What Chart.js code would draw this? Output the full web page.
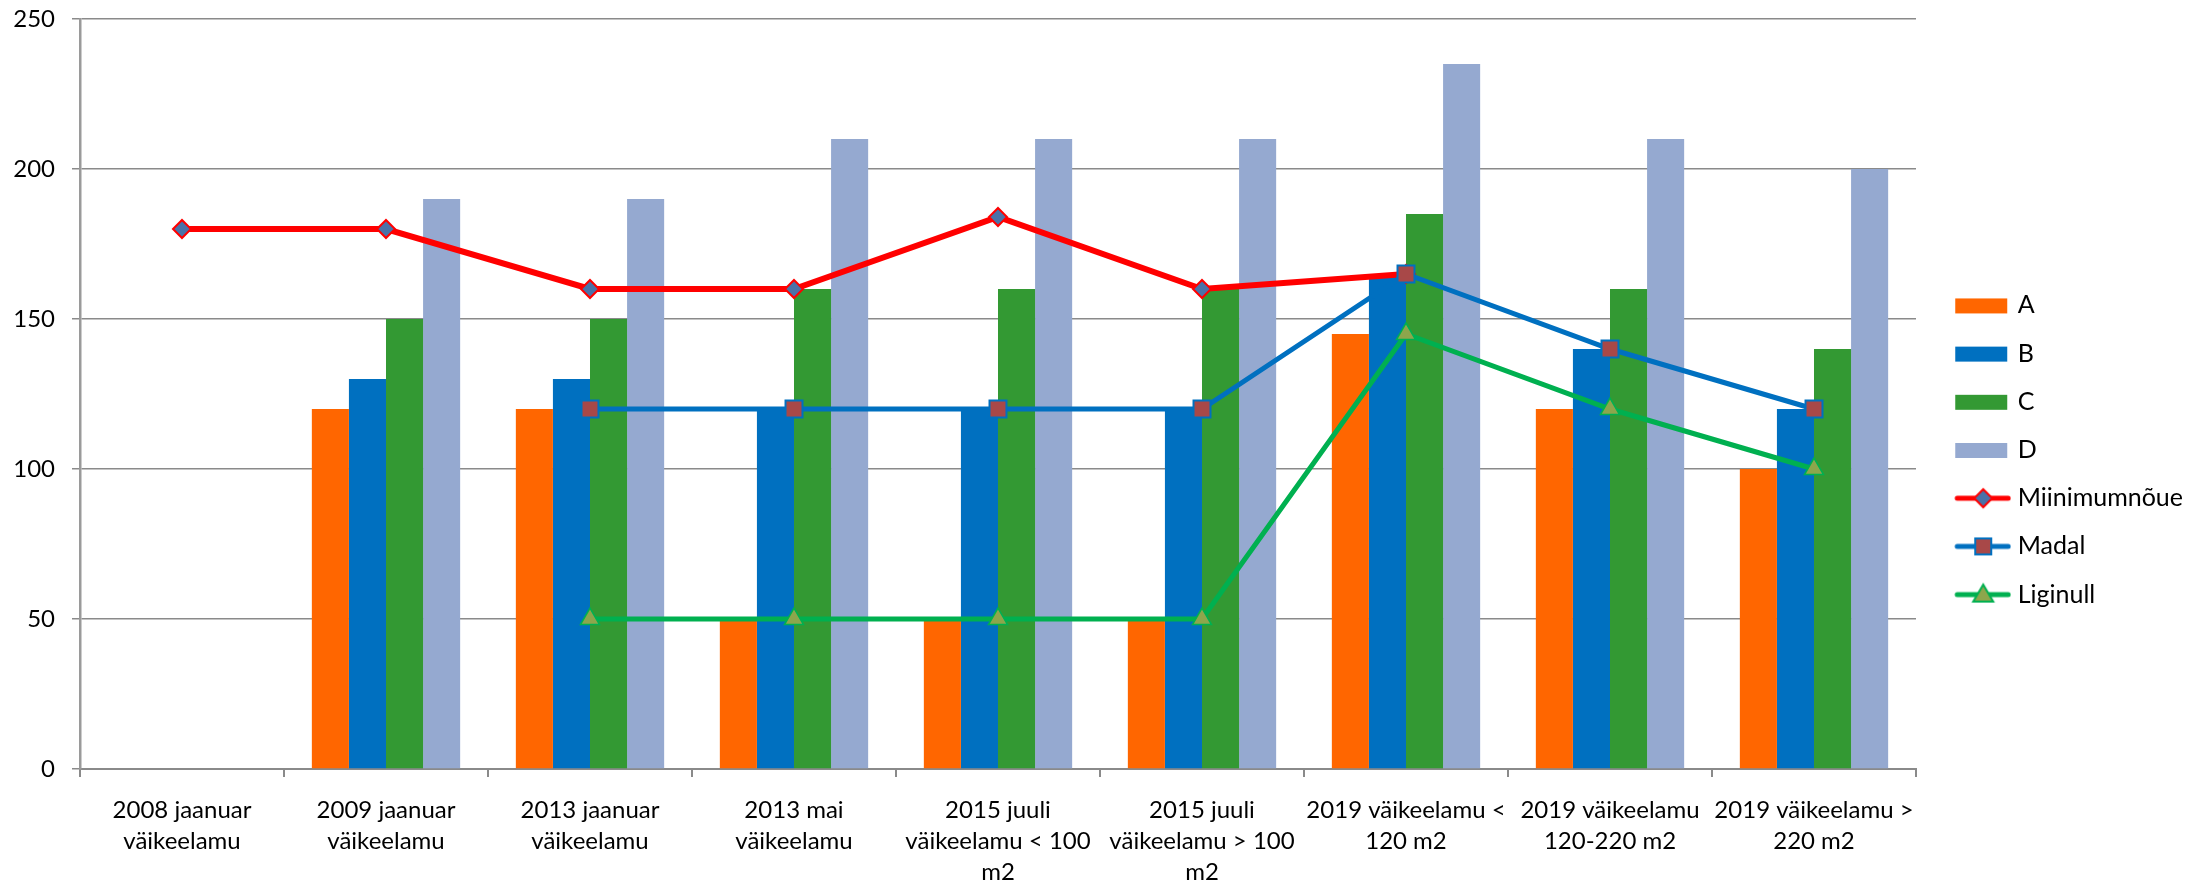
<!DOCTYPE html>
<html>
<head>
<meta charset="utf-8">
<script src="https://cdn.jsdelivr.net/npm/chart.js@4/dist/chart.umd.min.js"></script>
<style>
  html, body { margin: 0; padding: 0; background: #ffffff; }
  canvas { display: block; }
</style>
</head>
<body>
<canvas id="chart" width="2203" height="881"></canvas>
<script>
// Categories (multi-line x labels)
const categories = [
  ['2008 jaanuar', 'väikeelamu'],
  ['2009 jaanuar', 'väikeelamu'],
  ['2013 jaanuar', 'väikeelamu'],
  ['2013 mai', 'väikeelamu'],
  ['2015 juuli', 'väikeelamu < 100', 'm2'],
  ['2015 juuli', 'väikeelamu > 100', 'm2'],
  ['2019 väikeelamu <', '120 m2'],
  ['2019 väikeelamu', '120-220 m2'],
  ['2019 väikeelamu >', '220 m2']
];

// Bar series
const valuesA = [null, 120, 120, 50, 50, 50, 145, 120, 100];
const valuesB = [null, 130, 130, 120, 120, 120, 165, 140, 120];
const valuesC = [null, 150, 150, 160, 160, 160, 185, 160, 140];
const valuesD = [null, 190, 190, 210, 210, 210, 235, 210, 200];

// Line series
const valuesMiinimum = [180, 180, 160, 160, 184, 160, 165, null, null];
const valuesMadal = [null, null, 120, 120, 120, 120, 165, 140, 120];
const valuesLiginull = [null, null, 50, 50, 50, 50, 145, 120, 100];

// Value axis ticks
const yTicks = [0, 50, 100, 150, 200, 250];

const FONT = { family: 'Lato, "Open Sans", sans-serif', size: 24 };
const LEGEND_FONT = { family: 'Lato, "Open Sans", sans-serif', size: 25 };
const GRID = '#8a8a8a';

// Small legend icons: coloured box for bars, line with marker for lines
const ICON_W = 78, ICON_H = 26, ICON_X0 = 22;
function boxIcon(color) {
  const c = document.createElement('canvas');
  c.width = ICON_W; c.height = ICON_H;
  const g = c.getContext('2d');
  g.fillStyle = color;
  g.fillRect(ICON_X0, ICON_H / 2 - 7, 52, 15);
  return c;
}
function lineIcon(lineColor, shape, fill, stroke) {
  const c = document.createElement('canvas');
  c.width = ICON_W; c.height = ICON_H;
  const g = c.getContext('2d');
  const cy = ICON_H / 2;
  g.strokeStyle = lineColor;
  g.lineWidth = 5;
  g.lineCap = 'round';
  g.beginPath();
  g.moveTo(ICON_X0 + 2, cy);
  g.lineTo(ICON_W - 3, cy);
  g.stroke();
  const cx = ICON_X0 + 28;
  g.fillStyle = fill;
  g.strokeStyle = stroke;
  g.lineWidth = 2;
  g.beginPath();
  if (shape === 'diamond') {
    g.moveTo(cx, cy - 9); g.lineTo(cx + 9, cy); g.lineTo(cx, cy + 9); g.lineTo(cx - 9, cy); g.closePath();
  } else if (shape === 'square') {
    g.rect(cx - 8, cy - 8, 16, 16);
  } else {
    g.moveTo(cx, cy - 10); g.lineTo(cx + 10, cy + 7); g.lineTo(cx - 10, cy + 7); g.closePath();
  }
  g.fill();
  g.stroke();
  return c;
}

const datasets = [
  { type: 'bar', label: 'A', data: valuesA, backgroundColor: '#FF6600' },
  { type: 'bar', label: 'B', data: valuesB, backgroundColor: '#0070C0' },
  { type: 'bar', label: 'C', data: valuesC, backgroundColor: '#339933' },
  { type: 'bar', label: 'D', data: valuesD, backgroundColor: '#95A9D0' },
  {
    type: 'line', label: 'Miinimumnõue', data: valuesMiinimum, order: -1,
    borderColor: '#FF0000', borderWidth: 6, pointStyle: 'rectRot', pointRadius: 9,
    pointBackgroundColor: '#4A72A8', pointBorderColor: '#FF0000', pointBorderWidth: 2,
    tension: 0, fill: false
  },
  {
    type: 'line', label: 'Madal', data: valuesMadal, order: -2,
    borderColor: '#0070C0', borderWidth: 5, pointStyle: 'rect', pointRadius: 12,
    pointBackgroundColor: '#A84848', pointBorderColor: '#0070C0', pointBorderWidth: 2,
    tension: 0, fill: false
  },
  {
    type: 'line', label: 'Liginull', data: valuesLiginull, order: -3,
    borderColor: '#00B050', borderWidth: 5, pointStyle: 'triangle', pointRadius: 11,
    pointBackgroundColor: '#8DA64C', pointBorderColor: '#00B050', pointBorderWidth: 1.5,
    tension: 0, fill: false
  }
];

const legendIcons = [
  boxIcon('#FF6600'), boxIcon('#0070C0'), boxIcon('#339933'), boxIcon('#95A9D0'),
  lineIcon('#FF0000', 'diamond', '#4A72A8', '#FF0000'),
  lineIcon('#0070C0', 'square', '#A84848', '#0070C0'),
  lineIcon('#00B050', 'triangle', '#8DA64C', '#00B050')
];

new Chart(document.getElementById('chart'), {
  type: 'bar',
  data: { labels: categories, datasets },
  options: {
    responsive: false,
    animation: false,
    datasets: { bar: { barPercentage: 1.0, categoryPercentage: 0.727 } },
    layout: { padding: { top: 19, right: 10, bottom: 0, left: 0 } },
    plugins: {
      tooltip: { enabled: false },
      legend: {
        position: 'right',
        align: 'center',
        labels: {
          usePointStyle: true,
          pointStyleWidth: 66,
          padding: 23.2,
          color: '#000000',
          font: LEGEND_FONT,
          generateLabels: chart => chart.data.datasets.map((ds, i) => ({
            text: ds.label,
            pointStyle: legendIcons[i],
            datasetIndex: i,
            hidden: false,
            lineWidth: 0,
            fillStyle: 'rgba(0,0,0,0)',
            strokeStyle: 'rgba(0,0,0,0)',
            fontColor: '#000000'
          }))
        }
      }
    },
    scales: {
      x: {
        grid: { display: true, drawOnChartArea: false, drawTicks: true, tickLength: 8, color: GRID, lineWidth: 2 },
        border: { color: GRID, width: 2 },
        ticks: { color: '#000000', font: { ...FONT, lineHeight: '31px' }, padding: 18, maxRotation: 0, minRotation: 0, autoSkip: false },
        afterFit: s => { s.height = 112; }
      },
      y: {
        min: 0, max: 250,
        afterBuildTicks: s => { s.ticks = yTicks.map(v => ({ value: v })); },
        grid: { color: GRID, lineWidth: 1.5, tickLength: 8 },
        border: { color: '#9a9a9a', width: 2.5 },
        ticks: { color: '#000000', font: FONT, padding: 17 },
        afterFit: s => { s.width = 80; s.paddingTop = 0; s.paddingBottom = 0; }
      }
    }
  }
});
</script>
</body>
</html>
